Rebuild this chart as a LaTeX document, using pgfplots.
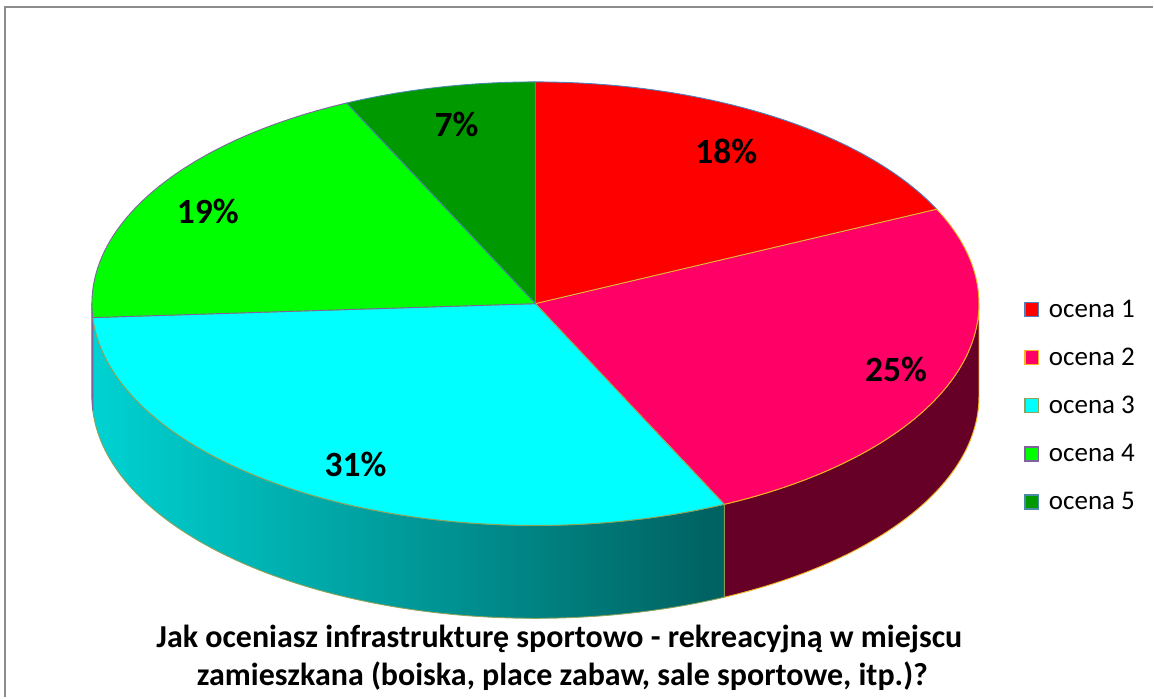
\documentclass[border=0pt]{standalone}
\usepackage{pgfplots}
\pgfplotsset{compat=1.18}
\usepackage{pgfplotstable}
\usepackage{fontspec}
\setmainfont{Carlito}
\definecolor{cOne}{HTML}{FF0000}
\definecolor{cTwo}{HTML}{FF0066}
\definecolor{cThree}{HTML}{00FFFF}
\definecolor{cFour}{HTML}{00FF00}
\definecolor{cFive}{HTML}{009900}
\definecolor{eOne}{HTML}{4F81BD}
\definecolor{eTwo}{HTML}{F5B622}
\definecolor{eThree}{HTML}{8EA25A}
\definecolor{eFour}{HTML}{7F62A0}
\definecolor{eFive}{HTML}{4A8BA8}
\definecolor{sTwo}{HTML}{660026}
\definecolor{sThreeL}{HTML}{00D2D2}
\definecolor{sThreeR}{HTML}{006060}
\definecolor{sFour}{HTML}{00B000}
\definecolor{frame}{HTML}{8C8C8C}
\pgfplotstableread{
idx value
1 18
2 25
3 31
4 19
5 7
}\piedata
\pgfplotstablegetelem{0}{value}\of\piedata \let\vA\pgfplotsretval
\pgfplotstablegetelem{1}{value}\of\piedata \let\vB\pgfplotsretval
\pgfplotstablegetelem{2}{value}\of\piedata \let\vC\pgfplotsretval
\pgfplotstablegetelem{3}{value}\of\piedata \let\vD\pgfplotsretval
\pgfplotstablegetelem{4}{value}\of\piedata \let\vE\pgfplotsretval
\pgfmathsetmacro\tA{0}
\pgfmathsetmacro\tB{\tA+3.6*\vA}
\pgfmathsetmacro\tC{\tB+3.6*\vB}
\pgfmathsetmacro\tD{\tC+3.6*\vC}
\pgfmathsetmacro\tE{\tD+3.6*\vD}
\pgfmathsetmacro\tF{\tE+3.6*\vE}
% geometry (1 unit = 1pt)
\def\cx{536}\def\cy{394}\def\rx{444}\def\ry{222}\def\dep{93}
\begin{document}
\begin{tikzpicture}
\begin{axis}[
  width=1154pt, height=698pt, scale only axis,
  xmin=0, xmax=1154, ymin=0, ymax=698,
  hide axis, clip=false,
  legend style={draw=none, fill=none, at={(1025/1154,400/698)}, anchor=north west,
    font=\fontsize{27}{31}\selectfont, row sep=25.3pt, inner sep=0pt,
    legend cell align=left},
  sq/.style={legend image code/.code={\draw[##1, line width=1.4pt] (0pt,-7pt) rectangle (14pt,7pt);\path (22pt,0pt);}},
]
\path (axis cs:0,0) rectangle (axis cs:1154,698);
\addlegendimage{sq, fill=cOne, draw=eOne}\addlegendentry{ocena 1}
\addlegendimage{sq, fill=cTwo, draw=eTwo}\addlegendentry{ocena 2}
\addlegendimage{sq, fill=cThree, draw=eThree}\addlegendentry{ocena 3}
\addlegendimage{sq, fill=cFour, draw=eFour}\addlegendentry{ocena 4}
\addlegendimage{sq, fill=cFive, draw=eFive}\addlegendentry{ocena 5}
% frame
\draw[frame, line width=2.5pt] (axis cs:5,0) -- (axis cs:5,691) -- (axis cs:1154,691);
% side walls
\addplot[forget plot, fill=sTwo, draw=eTwo, line width=0.9pt, domain=90:\tC, samples=60, variable=\t]
  ({\cx+\rx*sin(\t)},{\cy+\ry*cos(\t)}) -- ++(0pt,-\dep pt)
  arc[start angle={90-\tC}, end angle=0, x radius=\rx pt, y radius=\ry pt] -- cycle;
\addplot[forget plot, left color=sThreeL, right color=sThreeR, draw=eThree, line width=0.9pt, domain=\tC:\tD, samples=80, variable=\t]
  ({\cx+\rx*sin(\t)},{\cy+\ry*cos(\t)}) -- ++(0pt,-\dep pt)
  arc[start angle={90-\tD}, end angle={90-\tC}, x radius=\rx pt, y radius=\ry pt] -- cycle;
\addplot[forget plot, fill=sFour, draw=eFour, line width=0.9pt, domain=\tD:270, samples=10, variable=\t]
  ({\cx+\rx*sin(\t)},{\cy+\ry*cos(\t)}) -- ++(0pt,-\dep pt)
  arc[start angle=-180, end angle={90-\tD}, x radius=\rx pt, y radius=\ry pt] -- cycle;
% top faces
\addplot[forget plot, fill=cOne, draw=eOne, line width=0.9pt, domain=\tA:\tB, samples=60, variable=\t]
  ({\cx+\rx*sin(\t)},{\cy+\ry*cos(\t)}) -- (axis cs:\cx,\cy) -- cycle;
\addplot[forget plot, fill=cTwo, draw=eTwo, line width=0.9pt, domain=\tB:\tC, samples=80, variable=\t]
  ({\cx+\rx*sin(\t)},{\cy+\ry*cos(\t)}) -- (axis cs:\cx,\cy) -- cycle;
\addplot[forget plot, fill=cThree, draw=eThree, line width=0.9pt, domain=\tC:\tD, samples=90, variable=\t]
  ({\cx+\rx*sin(\t)},{\cy+\ry*cos(\t)}) -- (axis cs:\cx,\cy) -- cycle;
\addplot[forget plot, fill=cFour, draw=eFour, line width=0.9pt, domain=\tD:\tE, samples=60, variable=\t]
  ({\cx+\rx*sin(\t)},{\cy+\ry*cos(\t)}) -- (axis cs:\cx,\cy) -- cycle;
\addplot[forget plot, fill=cFive, draw=eFive, line width=0.9pt, domain=\tE:\tF, samples=30, variable=\t]
  ({\cx+\rx*sin(\t)},{\cy+\ry*cos(\t)}) -- (axis cs:\cx,\cy) -- cycle;
% labels
\begin{scope}[every node/.style={font=\fontsize{35.5}{40}\selectfont\bfseries, inner sep=0pt}]
\node at (axis cs:727,546) {18\%};
\node at (axis cs:897,328) {25\%};
\node at (axis cs:356,233) {31\%};
\node at (axis cs:208,486) {19\%};
\node at (axis cs:457,573) {7\%};
\end{scope}
\begin{scope}[every node/.style={font=\fontsize{32}{37}\selectfont\bfseries, inner sep=0pt, anchor=base}]
\node at (axis cs:560,50) {Jak oceniasz infrastrukturę sportowo - rekreacyjną w miejscu};
\node at (axis cs:563,12) {zamieszkana (boiska, place zabaw, sale sportowe, itp.)?};
\end{scope}
\end{axis}
\end{tikzpicture}
\end{document}
